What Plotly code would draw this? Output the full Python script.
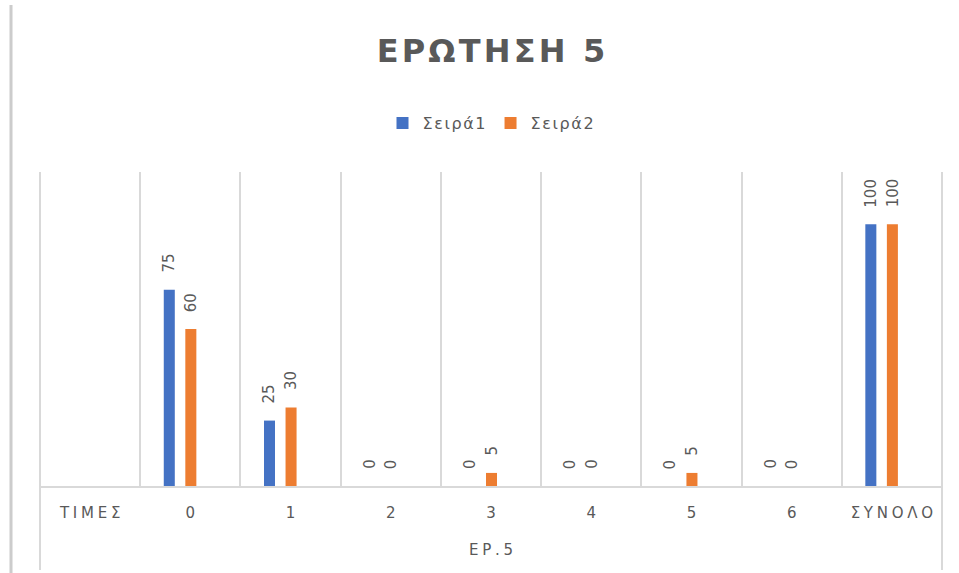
import plotly.graph_objects as go

# Chart data
categories = ["ΤΙΜΕΣ", "0", "1", "2", "3", "4", "5", "6", "ΣΥΝΟΛΟ"]
series1 = [None, 75, 25, 0, 0, 0, 0, 0, 100]
series2 = [None, 60, 30, 0, 5, 0, 5, 0, 100]
series_names = ["Σειρά1", "Σειρά2"]
group_label = "ΕΡ.5"
title_text = "ΕΡΩΤΗΣΗ 5"

W, H = 959, 573
FONT = "DejaVu Sans"
GREY = "#595959"
LINE = "#d9d9d9"
COLORS = ["#4472C4", "#ED7D31"]

BAR_W = 0.11
OFFSETS = [-0.265, -0.05]

X0, X1 = 40 / W, 942 / W
Y0, Y1 = 87 / H, 401 / H


def spaced(text, sep):
    return sep.join(text)


fig = go.Figure()
for name, vals, col, off in zip(series_names, [series1, series2], COLORS, OFFSETS):
    fig.add_trace(go.Bar(
        x=categories, y=vals, name=spaced(name, "\u200a"),
        marker=dict(color=col, line=dict(width=0)),
        width=BAR_W, offset=off,
    ))

# rotated value labels above each bar
annotations = []
for vals, off in zip([series1, series2], OFFSETS):
    for i, v in enumerate(vals):
        if v is None:
            continue
        annotations.append(dict(
            x=i + off + BAR_W / 2, y=v, xref="x", yref="y",
            text=str(v), showarrow=False, textangle=-90,
            xanchor="center", yanchor="bottom", yshift=15,
            font=dict(family=FONT, size=15, color=GREY),
        ))

# group label under the category axis
annotations.append(dict(
    x=(X0 + X1) / 2, y=(H - 550) / H, xref="paper", yref="paper",
    text=spaced(group_label, "\u2005"), showarrow=False,
    xanchor="center", yanchor="middle",
    font=dict(family=FONT, size=15, color=GREY),
))

shapes = [
    # outer frame lines of the category axis
    dict(type="line", xref="paper", yref="paper", x0=X0, x1=X0,
         y0=3 / H, y1=Y1, line=dict(color=LINE, width=2)),
    dict(type="line", xref="paper", yref="paper", x0=X1, x1=X1,
         y0=3 / H, y1=Y1, line=dict(color=LINE, width=2)),
    # page border on the left
    dict(type="line", xref="paper", yref="paper", x0=11 / W, x1=11 / W,
         y0=0, y1=(H - 5) / H, line=dict(color="#cccccc", width=3)),
]

fig.update_layout(
    width=W, height=H,
    margin=dict(l=0, r=0, t=0, b=0),
    paper_bgcolor="white", plot_bgcolor="white",
    barmode="overlay",
    title=dict(
        text="<b>" + spaced(title_text, "\u200a") + "</b>",
        x=(X0 + X1) / 2, xanchor="center", y=(H - 51) / H, yanchor="middle",
        font=dict(family=FONT, size=32, color=GREY),
    ),
    legend=dict(
        orientation="h", x=(X0 + X1) / 2, xanchor="center",
        y=(H - 123) / H, yanchor="middle",
        font=dict(family=FONT, size=16, color=GREY),
        bgcolor="rgba(0,0,0,0)",
    ),
    xaxis=dict(
        domain=[X0, X1], type="category",
        tickmode="array", tickvals=categories,
        ticktext=[spaced(c, "\u2005") for c in categories],
        tickson="boundaries", ticks="",
        showgrid=True, gridcolor=LINE, gridwidth=2,
        showline=True, linecolor=LINE, linewidth=2,
        tickfont=dict(family=FONT, size=15, color=GREY),
        ticklabelstandoff=12,
        range=[-0.5, len(categories) - 0.5],
        fixedrange=True,
    ),
    yaxis=dict(
        domain=[Y0, Y1], range=[0, 120],
        showgrid=False, zeroline=False, showticklabels=False,
        showline=False, fixedrange=True,
    ),
    annotations=annotations,
    shapes=shapes,
    showlegend=True,
)

fig.write_html("out.html")
